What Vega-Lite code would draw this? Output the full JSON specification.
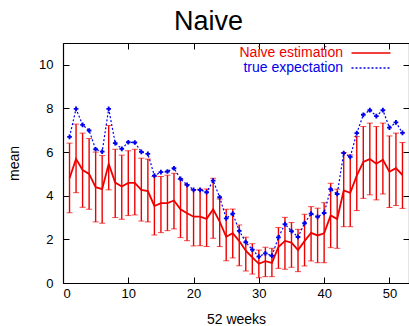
{
  "$schema": "https://vega.github.io/schema/vega-lite/v6.json",
  "width": 346,
  "height": 240,
  "autosize": "none",
  "padding": {"left": 63, "top": 43, "right": 0, "bottom": 43},
  "background": "white",
  "title": {"text": "Naive", "font": "Liberation Sans", "fontSize": 27, "fontWeight": "normal", "anchor": "middle", "frame": "bounds", "offset": -14, "baseline": "alphabetic", "color": "#000"},
  "config": {
    "view": {"stroke": null},
    "axis": {"labelFont": "Liberation Sans", "titleFont": "Liberation Sans", "labelFontSize": 13, "titleFontSize": 14, "titleFontWeight": "normal", "labelColor": "#000", "titleColor": "#000", "tickColor": "#000", "domainColor": "#000", "tickSize": -6, "grid": false, "domainWidth": 1.2}
  },
  "data": {"values": [
    {"week": 1, "est": 4.80, "lo": 3.22, "hi": 6.41, "truth": 6.70},
    {"week": 2, "est": 5.69, "lo": 4.14, "hi": 7.28, "truth": 7.98},
    {"week": 3, "est": 5.18, "lo": 3.47, "hi": 6.87, "truth": 7.25},
    {"week": 4, "est": 5.00, "lo": 3.38, "hi": 6.62, "truth": 6.99},
    {"week": 5, "est": 4.39, "lo": 2.80, "hi": 6.00, "truth": 6.13},
    {"week": 6, "est": 4.30, "lo": 2.74, "hi": 5.84, "truth": 6.02},
    {"week": 7, "est": 5.46, "lo": 4.27, "hi": 7.22, "truth": 7.98},
    {"week": 8, "est": 4.60, "lo": 3.00, "hi": 6.13, "truth": 6.41},
    {"week": 9, "est": 4.42, "lo": 2.92, "hi": 5.86, "truth": 6.15},
    {"week": 10, "est": 4.59, "lo": 3.09, "hi": 6.06, "truth": 6.45},
    {"week": 11, "est": 4.59, "lo": 3.12, "hi": 6.13, "truth": 6.44},
    {"week": 12, "est": 4.27, "lo": 2.84, "hi": 5.72, "truth": 6.01},
    {"week": 13, "est": 4.21, "lo": 2.80, "hi": 5.68, "truth": 5.92},
    {"week": 14, "est": 3.53, "lo": 2.20, "hi": 4.88, "truth": 4.92},
    {"week": 15, "est": 3.66, "lo": 2.31, "hi": 4.88, "truth": 5.08},
    {"week": 16, "est": 3.66, "lo": 2.40, "hi": 4.94, "truth": 5.11},
    {"week": 17, "est": 3.78, "lo": 2.48, "hi": 5.03, "truth": 5.26},
    {"week": 18, "est": 3.38, "lo": 2.08, "hi": 4.76, "truth": 4.77},
    {"week": 19, "est": 3.20, "lo": 1.94, "hi": 4.50, "truth": 4.50},
    {"week": 20, "est": 3.04, "lo": 1.70, "hi": 4.27, "truth": 4.27},
    {"week": 21, "est": 3.04, "lo": 1.71, "hi": 4.30, "truth": 4.27},
    {"week": 22, "est": 2.94, "lo": 1.67, "hi": 4.31, "truth": 4.16},
    {"week": 23, "est": 3.38, "lo": 2.05, "hi": 4.80, "truth": 4.69},
    {"week": 24, "est": 2.81, "lo": 1.67, "hi": 3.85, "truth": 3.93},
    {"week": 25, "est": 2.12, "lo": 1.02, "hi": 3.38, "truth": 2.96},
    {"week": 26, "est": 2.28, "lo": 1.15, "hi": 3.39, "truth": 3.18},
    {"week": 27, "est": 1.92, "lo": 0.79, "hi": 2.66, "truth": 2.39},
    {"week": 28, "est": 1.48, "lo": 0.55, "hi": 2.10, "truth": 1.87},
    {"week": 29, "est": 1.17, "lo": 0.41, "hi": 1.80, "truth": 1.53},
    {"week": 30, "est": 0.88, "lo": 0.24, "hi": 1.51, "truth": 1.21},
    {"week": 31, "est": 1.00, "lo": 0.29, "hi": 1.64, "truth": 1.36},
    {"week": 32, "est": 0.92, "lo": 0.29, "hi": 1.59, "truth": 1.25},
    {"week": 33, "est": 1.65, "lo": 0.67, "hi": 2.54, "truth": 2.09},
    {"week": 34, "est": 1.93, "lo": 0.63, "hi": 3.01, "truth": 2.70},
    {"week": 35, "est": 1.85, "lo": 0.72, "hi": 2.77, "truth": 2.38},
    {"week": 36, "est": 1.51, "lo": 0.52, "hi": 2.46, "truth": 2.11},
    {"week": 37, "est": 1.92, "lo": 0.78, "hi": 3.15, "truth": 2.74},
    {"week": 38, "est": 2.30, "lo": 1.01, "hi": 3.50, "truth": 3.18},
    {"week": 39, "est": 2.18, "lo": 0.93, "hi": 3.43, "truth": 3.03},
    {"week": 40, "est": 2.28, "lo": 0.93, "hi": 3.68, "truth": 3.21},
    {"week": 41, "est": 3.10, "lo": 1.62, "hi": 4.57, "truth": 4.30},
    {"week": 42, "est": 2.93, "lo": 1.59, "hi": 4.30, "truth": 4.08},
    {"week": 43, "est": 4.24, "lo": 2.58, "hi": 5.98, "truth": 5.95},
    {"week": 44, "est": 4.13, "lo": 2.58, "hi": 5.87, "truth": 5.78},
    {"week": 45, "est": 4.92, "lo": 3.32, "hi": 6.71, "truth": 6.87},
    {"week": 46, "est": 5.55, "lo": 3.88, "hi": 7.17, "truth": 7.71},
    {"week": 47, "est": 5.68, "lo": 4.04, "hi": 7.33, "truth": 7.92},
    {"week": 48, "est": 5.47, "lo": 3.81, "hi": 7.17, "truth": 7.65},
    {"week": 49, "est": 5.65, "lo": 4.08, "hi": 7.33, "truth": 7.92},
    {"week": 50, "est": 5.10, "lo": 3.46, "hi": 6.74, "truth": 7.12},
    {"week": 51, "est": 5.26, "lo": 3.55, "hi": 6.87, "truth": 7.36},
    {"week": 52, "est": 4.95, "lo": 3.42, "hi": 6.44, "truth": 6.88}
  ]},
  "layer": [
    {
      "mark": {"type": "errorbar", "color": "#ee0000", "ticks": {"size": 6, "color": "#ee0000"}, "rule": {"strokeWidth": 1.4}},
      "encoding": {
        "x": {"field": "week", "type": "quantitative", "scale": {"domain": [0, 53], "nice": false}, "axis": {"orient": "bottom", "values": [0, 10, 20, 30, 40, 50], "title": "52 weeks", "labelPadding": 10, "titlePadding": 12}},
        "y": {"field": "lo", "type": "quantitative", "scale": {"domain": [0, 11], "nice": false}, "axis": {"orient": "left", "values": [0, 2, 4, 6, 8, 10], "title": "mean", "labelPadding": 16, "titlePadding": 17}},
        "y2": {"field": "hi"}
      }
    },
    {
      "mark": {"type": "line", "strokeWidth": 1.8},
      "encoding": {
        "x": {"field": "week", "type": "quantitative", "axis": null},
        "y": {"field": "est", "type": "quantitative", "axis": null},
        "color": {"datum": "Naive estimation", "type": "nominal", "scale": {"domain": ["Naive estimation", "true expectation"], "range": ["#ee0000", "#0000ee"]},
          "legend": {"orient": "none", "legendX": 301, "legendY": 3, "title": null, "symbolType": "M-3.9,0H3.9", "symbolSize": 100, "symbolStrokeWidth": 1.5, "labelAlign": "right", "labelOffset": -35, "labelFontSize": 14, "labelFont": "Liberation Sans", "rowPadding": 1,
            "encode": {
              "labels": {"update": {"fill": {"signal": "datum.value == 'Naive estimation' ? '#ee0000' : '#0000ee'"}}},
              "symbols": {"update": {"strokeDash": {"signal": "datum.value == 'Naive estimation' ? [1,0] : [2,2]"}}}
            }}}
      }
    },
    {
      "mark": {"type": "line", "strokeWidth": 1.2, "strokeDash": [2, 2]},
      "encoding": {
        "x": {"field": "week", "type": "quantitative", "axis": null},
        "y": {"field": "truth", "type": "quantitative", "axis": null},
        "color": {"datum": "true expectation", "type": "nominal"}
      }
    },
    {
      "mark": {"type": "point", "shape": "cross", "filled": true, "size": 22, "color": "#0000ee", "opacity": 1},
      "encoding": {
        "x": {"field": "week", "type": "quantitative", "axis": {"orient": "top", "values": [0, 10, 20, 30, 40, 50], "labels": false, "title": null}},
        "y": {"field": "truth", "type": "quantitative", "axis": {"orient": "right", "values": [0, 2, 4, 6, 8, 10], "labels": false, "title": null}}
      }
    }
  ],
  "resolve": {"axis": {"x": "independent", "y": "independent"}}
}
